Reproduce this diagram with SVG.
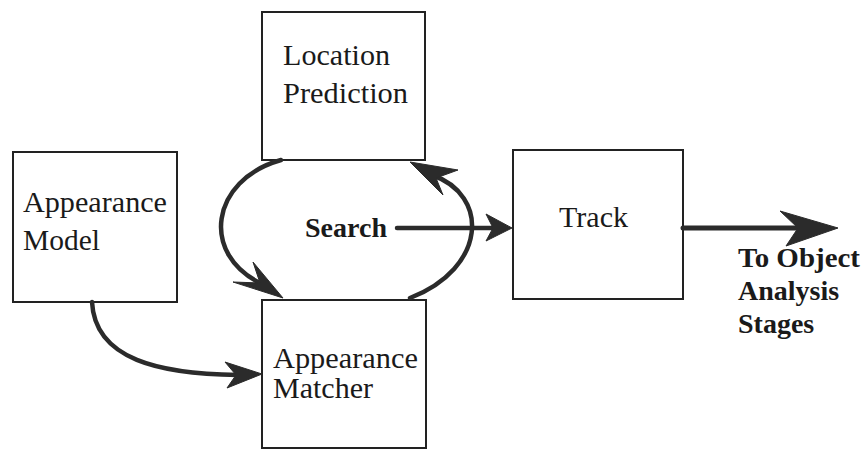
<svg xmlns="http://www.w3.org/2000/svg" width="867" height="450" viewBox="0 0 867 450">
<style>
.box{fill:#fff;stroke:#222;stroke-width:2}
.t{font-family:"Liberation Serif","Times New Roman",serif;font-size:29px;fill:#1a1a1a}
.b{font-family:"Liberation Serif","Times New Roman",serif;font-size:28px;font-weight:bold;fill:#1a1a1a}
.c{fill:none;stroke:#2b2b2b;stroke-width:4.5;stroke-linecap:round}
.h{fill:#2b2b2b;stroke:#2b2b2b;stroke-width:1;stroke-linejoin:round}
</style>
<rect width="867" height="450" fill="#fff"/>
<g id="location-prediction">
<rect class="box" x="262" y="12" width="163" height="148"/>
<text class="t" x="283" y="65" textLength="107" lengthAdjust="spacingAndGlyphs">Location</text>
<text class="t" x="283" y="103" textLength="125" lengthAdjust="spacingAndGlyphs">Prediction</text>
</g>
<g id="appearance-model">
<rect class="box" x="13" y="152" width="164" height="150"/>
<text class="t" x="23" y="212" textLength="144" lengthAdjust="spacingAndGlyphs">Appearance</text>
<text class="t" x="23" y="250" textLength="77" lengthAdjust="spacingAndGlyphs">Model</text>
</g>
<g id="track">
<rect class="box" x="513" y="150" width="170" height="149"/>
<text class="t" x="559" y="227" textLength="69" lengthAdjust="spacingAndGlyphs">Track</text>
</g>
<g id="appearance-matcher">
<rect class="box" x="262" y="300" width="164" height="148"/>
<text class="t" x="273" y="368" textLength="145" lengthAdjust="spacingAndGlyphs">Appearance</text>
<text class="t" x="273" y="398" textLength="100" lengthAdjust="spacingAndGlyphs">Matcher</text>
</g>
<g id="search-label">
<text class="b" x="305" y="237" textLength="82" lengthAdjust="spacingAndGlyphs">Search</text>
</g>
<g id="output-label">
<text class="b" x="738" y="267" textLength="122" lengthAdjust="spacingAndGlyphs">To Object</text>
<text class="b" x="738" y="300">Analysis</text>
<text class="b" x="738" y="333">Stages</text>
</g>
<g id="connectors">
<path class="c" d="M281 160 C210 180 200 255 262 284"/>
<polygon class="h" points="283,298 233,282 260,283 253,262"/>
<path class="c" d="M410 298 C487 268 490 195 432 175"/>
<polygon class="h" points="410,162 458,170 436,178 443,195"/>
<path class="c" d="M397 228 L494 228"/>
<polygon class="h" points="512,228 486,214 493,228 486,241"/>
<path class="c" d="M683 228 L800 228" style="stroke-width:5"/>
<polygon class="h" points="838,228 780,211 798,228 786,246"/>
<path class="c" d="M92 302 C95 360 160 374 238 375"/>
<polygon class="h" points="262,374 225,362 236,375 227,388"/>
</g>
</svg>
